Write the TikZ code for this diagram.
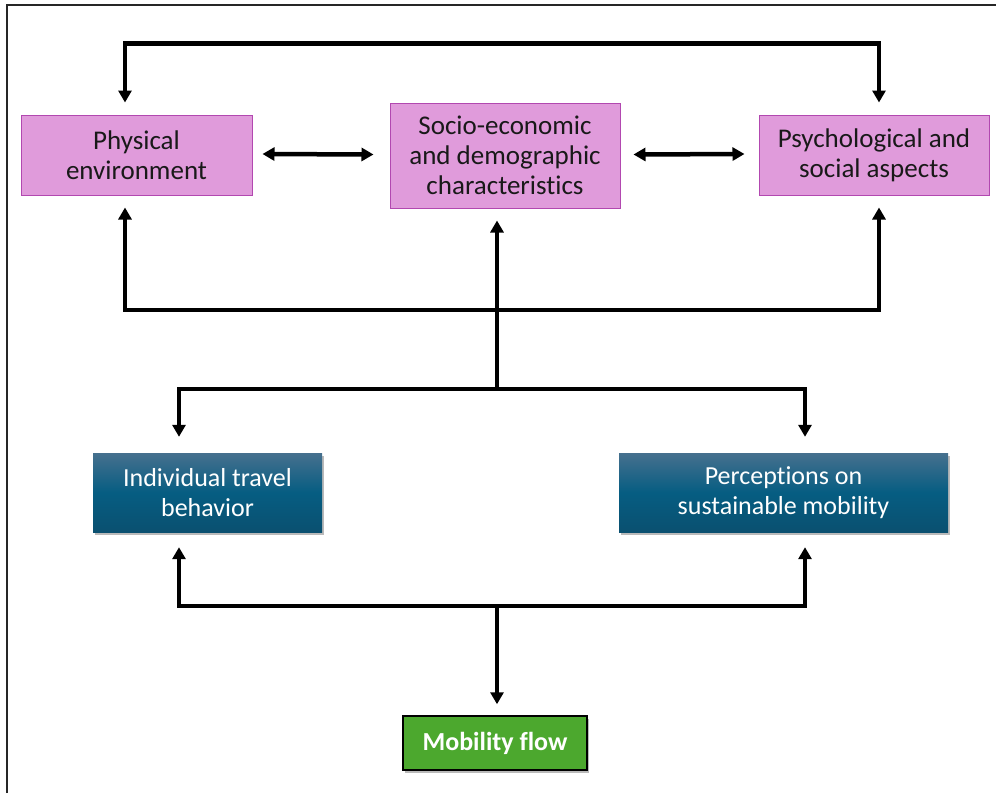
\documentclass[tikz,border=0pt]{standalone}
\usepackage{fontspec}
\setmainfont{Carlito}[Ligatures=NoCommon]
\usetikzlibrary{arrows.meta,shadows}

\definecolor{pinkfill}{RGB}{224,155,219}
\definecolor{pinkline}{RGB}{178,72,176}
\definecolor{bluetop}{RGB}{70,112,142}
\definecolor{bluemid}{RGB}{6,93,130}
\definecolor{bluebot}{RGB}{10,80,112}
\definecolor{greenfill}{RGB}{76,168,46}

\tikzset{
  pinkbox/.style={draw=pinkline, line width=1pt, fill=pinkfill, align=center,
    inner sep=0pt, font=\fontsize{27}{30}\selectfont, text=black!90},
  bluebox/.style={draw=none, top color=bluetop, bottom color=bluebot, middle color=bluemid,
    align=center, inner sep=0pt, font=\fontsize{26}{30}\selectfont, text=white,
    drop shadow={shadow xshift=2pt, shadow yshift=-3pt, fill=black!45, opacity=0.6}},
  greenbox/.style={draw=black, line width=1.5pt, fill=greenfill, align=center,
    inner sep=0pt, font=\bfseries\fontsize{26}{28}\selectfont, text=white,
    drop shadow={shadow xshift=2pt, shadow yshift=-3pt, fill=black!45, opacity=0.6}},
  lk/.style={line width=4.5pt, black},
  tip/.style={-{Triangle[length=12pt,width=13pt]}},
  tips/.style={{Triangle[length=12pt,width=13pt]}-{Triangle[length=12pt,width=13pt]}},
}

\begin{document}
\begin{tikzpicture}[x=1pt,y=-1pt]
\useasboundingbox (0,0) rectangle (996,793);

% outer frame (only top and left edges fall inside the page)
\draw[line width=2pt, black!85] (7,793) -- (7,5) -- (996,5);

% factor boxes
\node[pinkbox, minimum width=231pt, minimum height=80pt] (phys) at (136.5,155)
  {Physical\\environment};
\node[pinkbox, minimum width=230pt, minimum height=105pt] (socio) at (505,155.5)
  {Socio-economic\\and demographic\\characteristics};
\node[pinkbox, minimum width=230pt, minimum height=80pt] (psy) at (874,155)
  {Psychological and\\social aspects};

% outcome boxes
\node[bluebox, minimum width=229pt, minimum height=79pt] (indiv) at (207.5,492.5)
  {Individual travel\\behavior};
\node[bluebox, minimum width=329pt, minimum height=79pt] (perc) at (783.5,492.5)
  {Perceptions on\\sustainable mobility};
\node[greenbox, minimum width=184pt, minimum height=54pt] (mob) at (495,743)
  {Mobility flow};

% junction points of the branching connectors
\coordinate (hubA) at (497,310);
\coordinate (hubB) at (497,389);
\coordinate (hubC) at (497,606);

% top loop between physical environment and psychological aspects
\draw[lk,tips] ([xshift=-11.5pt,yshift=12pt]phys.north) -- ++(0,-59)
  -| ([xshift=5pt,yshift=12pt]psy.north);

% mutual links among the three factor boxes
\draw[lk,tips] ([xshift=10pt,yshift=1pt]phys.east) -- ([xshift=-16pt,yshift=1pt]socio.west);
\draw[lk,tips] ([xshift=13pt,yshift=1pt]socio.east) -- ([xshift=-14pt,yshift=1pt]psy.west);

% upward branches to the factor boxes
\draw[lk] (hubB) -- (hubA);
\draw[lk,tip] (hubA) -| ([xshift=-11.5pt,yshift=-12pt]phys.south);
\draw[lk,tip] (hubA) -| ([xshift=5pt,yshift=-12pt]psy.south);
\draw[lk,tip] (hubA) -- ([xshift=-8pt,yshift=-12pt]socio.south);

% downward branches to the outcome boxes
\draw[lk,tip] (hubB) -| ([xshift=-28.5pt,yshift=16pt]indiv.north);
\draw[lk,tip] (hubB) -| ([xshift=21.5pt,yshift=16pt]perc.north);

% links from the outcome boxes to mobility flow
\draw[lk,tip] (hubC) -| ([xshift=-28.5pt,yshift=-15pt]indiv.south);
\draw[lk,tip] (hubC) -| ([xshift=21.5pt,yshift=-15pt]perc.south);
\draw[lk,tip] (hubC) -- ([xshift=2pt,yshift=11pt]mob.north);
\end{tikzpicture}
\end{document}
